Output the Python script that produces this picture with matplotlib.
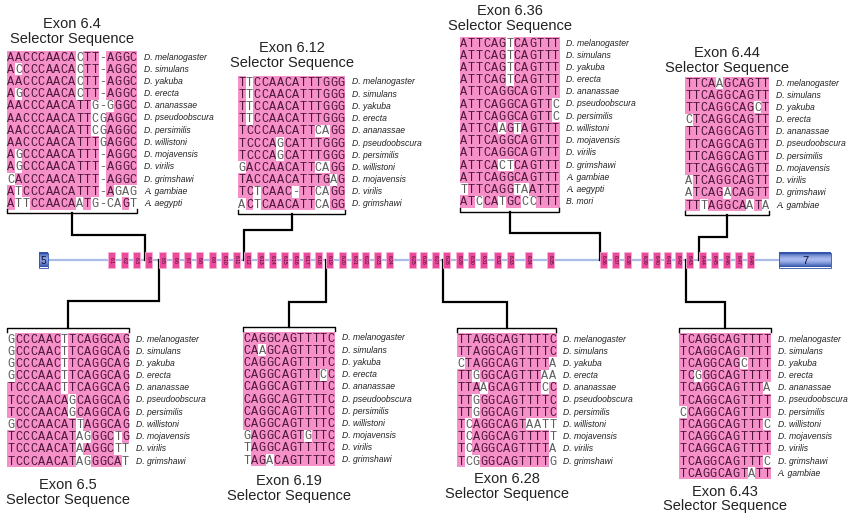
"""
Selector exons of the Dscam exon 6 cluster with their aligned selector sequences.
Upper case = shaded (conserved) base, lower case = unshaded base.
"""
import matplotlib

matplotlib.use("Agg")
import matplotlib.pyplot as plt
from matplotlib.patches import Rectangle
import numpy as np

# --------------------------------------------------------------------------- #
# DATA                                                                        #
# --------------------------------------------------------------------------- #
DROS = ["D. melanogaster", "D. simulans", "D. yakuba", "D. erecta",
        "D. ananassae", "D. pseudoobscura", "D. persimilis", "D. willistoni",
        "D. mojavensis", "D. virilis", "D. grimshawi"]

EX6_4_SPECIES = DROS + ["A. gambiae", "A. aegypti"]
EX6_4_SEQS = [
    "AACCCAACAcTT-AGGC",
    "AcCCCAACAcTT-AGGC",
    "AACCCAACAcTT-AGGC",
    "AgCCCAACAcTT-AGGC",
    "AACCCAACATTg-gGGC",
    "AACCCAACATTcgAGGC",
    "AACCCAACATTcgAGGC",
    "AACCCAACATTTgAGGC",
    "AgCCCAACATTT-AGGC",
    "AgCCCAACATTT-AGGC",
    "cACCCAACATTT-AGGC",
    "AtCCCAACATTT-Agag",
    "AttCCAACAaTg-caGt",
]

EX6_12_SPECIES = DROS
EX6_12_SEQS = [
    "TtCCAACATTTGGG",
    "TtCCAACATTTGGG",
    "TtCCAACATTTGGG",
    "TtCCAACATTTGGG",
    "TCCCAACATTcaGG",
    "TCCCAgCATTTGGG",
    "TCCCAgCATTTGGG",
    "gACCAACATTcaGG",
    "TACCAACATTTGaG",
    "TCtCAAC-TTcaGG",
    "aCtCAACATTcaGG",
]

EX6_36_SPECIES = DROS + ["A. gambiae", "A. aegypti", "B. mori"]
EX6_36_SEQS = [
    "ATTCAGtCAGTTT",
    "ATTCAGtCAGTTT",
    "ATTCAGtCAGTTT",
    "ATTCAGtCAGTTT",
    "ATTCAGGCAGTTT",
    "ATTCAGGCAGTTc",
    "ATTCAGGCAGTTc",
    "ATTCAaGtAGTTT",
    "ATTCAGGCAGTTT",
    "ATTCAGGCAGTTT",
    "ATTCActCAGTTT",
    "ATTCAGGCAGTTT",
    "tTTCAGGtaATTT",
    "ATcCAtGCccTTT",
]

EX6_44_SPECIES = ["D. melanogaster", "D. simulans", "D. yakuba", "D. erecta",
                  "D. ananassae", "D. pseudoobscura", "D. persimilis",
                  "D. mojavensis", "D. virilis", "D. grimshawi", "A. gambiae"]
EX6_44_SEQS = [
    "TTCAaGCAGTT",
    "TTCAGGCAGTT",
    "TTCAGGCAGcT",
    "cTCAGGCAGTT",
    "TTCAGGCAGTT",
    "TTCAGGCAGTT",
    "TTCAGGCAGTT",
    "TTCAGGCAGTT",
    "aTCAGGCAGTT",
    "aTCAGaCAGTT",
    "TTtAGGCAaTa",
]

EX6_5_SPECIES = DROS
EX6_5_SEQS = [
    "gCCCAACtTCAGGCAG",
    "gCCCAACtTCAGGCAG",
    "gCCCAACtTCAGGCAG",
    "gCCCAACtTCAGGCAG",
    "TCCCAACtTCAGGCAG",
    "TCCCAACAgCAGGCAG",
    "TCCCAACAgCAGGCAG",
    "gCCCAACATtAGGCAG",
    "TCCCAACATagGGCtG",
    "TCCCAACATaAGGCtt",
    "TCCCAACATagGGCAt",
]

EX6_19_SPECIES = DROS
EX6_19_SEQS = [
    "CAGGCAGTTTTC",
    "CAaGCAGTTTTC",
    "CAGGCAGTTTTC",
    "CAGGCAGTTTcC",
    "CAGGCAGTTTTC",
    "CAGGCAGTTTTC",
    "CAGGCAGTTTTC",
    "CAGGCAGTTTTC",
    "gAGGCAGTgTTC",
    "tAGGCAGTTTTC",
    "tAGaCAGTTTTC",
]

EX6_28_SPECIES = DROS
EX6_28_SEQS = [
    "TTAGGCAGTTTTC",
    "TTAGGCAGTTTTC",
    "cTAGGCAGTTTTa",
    "TTgGGCAGTTTaa",
    "TTAaGCAGTTTcC",
    "TTgGGCAGTTTTC",
    "TTgGGCAGTTTTC",
    "TcAGGCAGTaatt",
    "TcAGGCAGTTTTt",
    "TcAGGCAGTTTTa",
    "TcgGGCAGTTTTg",
]

EX6_43_SPECIES = DROS + ["A. gambiae"]
EX6_43_SEQS = [
    "TCAGGCAGTTTT",
    "TCAGGCAGTTTT",
    "TCAGGCAGcTTT",
    "TCgGGCAGTTTT",
    "TCAGGCAGTTTa",
    "TCAGGCAGTTTT",
    "cCAGGCAGTTTT",
    "TCAGGCAGTTTc",
    "TCAGGCAGTTTT",
    "TCAGGCAGTTTT",
    "TCAGGCAGTTTc",
    "TCAGGCAGTaTT",
]

# exon 6 variants along the gene (drawing units), plus flanking constitutive exons
EXON6_LABELS = [f"6.{i}" for i in range(1, 49)]
EXON6_POS = [111, 124, 136, 148, 162, 175, 187, 199, 212, 224, 236, 247,
             260, 272, 284, 295, 306, 318, 329, 342, 354, 365, 377, 389,
             412, 423, 435, 446, 459, 471, 483, 497, 510, 528, 550,
             603, 615, 627, 644, 656, 667, 678, 689, 702, 714, 726, 738, 750]
EXON5_SPAN = (39, 48)
EXON7_SPAN = (779, 831)

# --------------------------------------------------------------------------- #
# LAYOUT / STYLE                                                              #
# --------------------------------------------------------------------------- #
PANELS = [
    dict(name="6.4", seqs=EX6_4_SEQS, species=EX6_4_SPECIES, x0=7, y0=57,
         side="top", elbow=235, titles=(24, 39)),
    dict(name="6.12", seqs=EX6_12_SEQS, species=EX6_12_SPECIES, x0=238, y0=82,
         side="top", elbow=230, titles=(48, 63)),
    dict(name="6.36", seqs=EX6_36_SEQS, species=EX6_36_SPECIES, x0=460, y0=43,
         side="top", elbow=233, titles=(11, 26)),
    dict(name="6.44", seqs=EX6_44_SEQS, species=EX6_44_SPECIES, x0=685, y0=83,
         side="top", elbow=237, titles=(53, 68)),
    dict(name="6.5", seqs=EX6_5_SEQS, species=EX6_5_SPECIES, x0=7, y0=339,
         side="bottom", elbow=301, titles=(485, 500)),
    dict(name="6.19", seqs=EX6_19_SEQS, species=EX6_19_SPECIES, x0=243, y0=338,
         side="bottom", elbow=302, titles=(481, 496)),
    dict(name="6.28", seqs=EX6_28_SEQS, species=EX6_28_SPECIES, x0=457, y0=339,
         side="bottom", elbow=302, titles=(479, 494)),
    dict(name="6.43", seqs=EX6_43_SEQS, species=EX6_43_SPECIES, x0=679, y0=339,
         side="bottom", elbow=302, titles=(492, 506)),
]

CW, RH = 7.65, 12.2          # alignment cell width / row height
TRACK_Y = 260
PINK = "#f590c8"
ON_PINK = "#4d1638"
OFF_PINK = "#5c5c5c"
SANS = ["Liberation Sans", "DejaVu Sans"]
MONO = ["Liberation Mono", "DejaVu Sans Mono"]


def grad_box(ax, x0, x1, y0, y1, dark, light, z=3):
    t = np.linspace(0, 1, 40)
    w = 1 - np.abs(2 * t - 1) ** 1.5
    d = np.array(matplotlib.colors.to_rgb(dark))
    l = np.array(matplotlib.colors.to_rgb(light))
    img = d[None, :] * (1 - w[:, None]) + l[None, :] * w[:, None]
    ax.imshow(img[:, None, :], extent=(x0, x1, y1, y0), aspect="auto",
              interpolation="bilinear", zorder=z)
    ax.add_patch(Rectangle((x0, y0), x1 - x0, y1 - y0, fill=False,
                           edgecolor=dark, lw=0.6, zorder=z + 0.1))


def draw_panel(ax, p):
    seqs, x0, y0 = p["seqs"], p["x0"], p["y0"]
    ncol = len(seqs[0])
    nrow = len(seqs)
    for i, s in enumerate(seqs):
        yc = y0 + i * RH
        for j, ch in enumerate(s):
            shaded = ch.isupper()
            if shaded:
                ax.add_patch(Rectangle((x0 + j * CW - 0.05, yc - RH / 2 - 0.05),
                                       CW + 0.1, RH + 0.1, facecolor=PINK,
                                       edgecolor="none", zorder=1))
            ax.text(x0 + (j + 0.5) * CW, yc + 0.6, ch.upper(), ha="center", va="center",
                    family=MONO, fontsize=8.6, color=ON_PINK if shaded else OFF_PINK,
                    zorder=2)
        ax.text(x0 + ncol * CW + 7, yc, p["species"][i], ha="left", va="center",
                family=SANS, style="italic", fontsize=6.2, color="#222222")

    x1 = x0 + ncol * CW
    xc = (x0 + x1) / 2
    exon_x = EXON6_POS[EXON6_LABELS.index(p["name"])] - 3.5
    if p["side"] == "top":
        yb = y0 + (nrow - 1) * RH + 10
        tick = -4
    else:
        yb = y0 - 11
        tick = 4

    ax.plot([x0, x0, x1, x1], [yb + tick, yb, yb, yb + tick], color="black",
            lw=1.0, solid_joinstyle="round", zorder=2)
    ax.plot([xc, xc, exon_x, exon_x], [yb, p["elbow"], p["elbow"], TRACK_Y],
            color="black", lw=1.6, solid_joinstyle="miter", zorder=2)
    t1, t2 = p["titles"]
    ax.text(xc, t1, f"Exon {p['name']}", ha="center", va="center",
            family=SANS, fontsize=10.5, color="#222222")
    ax.text(xc, t2, "Selector Sequence", ha="center", va="center",
            family=SANS, fontsize=10.5, color="#222222")


def draw_track(ax):
    ax.plot([EXON5_SPAN[1], EXON7_SPAN[0]], [TRACK_Y, TRACK_Y], color="#a9bde6",
            lw=1.6, zorder=1.5)
    grad_box(ax, EXON5_SPAN[0], EXON5_SPAN[1], TRACK_Y - 7.5, TRACK_Y + 7.5,
             "#2e4fa8", "#8fa6e6")
    ax.text(sum(EXON5_SPAN) / 2, TRACK_Y + 0.5, "5", ha="center", va="center",
            family=SANS, fontsize=7.5, color="#111133", zorder=5)
    grad_box(ax, EXON7_SPAN[0], EXON7_SPAN[1], TRACK_Y - 7.5, TRACK_Y + 7.5,
             "#2e4fa8", "#a8baf0")
    ax.text(sum(EXON7_SPAN) / 2, TRACK_Y + 0.5, "7", ha="center", va="center",
            family=SANS, fontsize=8, color="#111133", zorder=5)
    for lab, x in zip(EXON6_LABELS, EXON6_POS):
        ax.add_patch(Rectangle((x - 3.5, TRACK_Y - 8), 7, 16, facecolor="#ec4a9c",
                               edgecolor="#f8b0d4", lw=0.6, zorder=3))
        ax.text(x, TRACK_Y, lab, ha="center", va="center", rotation=270,
                family=SANS, fontsize=3.6, color="#3a0a24", zorder=4)


def main():
    fig = plt.figure(figsize=(8.59, 5.18), dpi=100)
    ax = fig.add_axes([0, 0, 1, 1])
    ax.axis("off")
    draw_track(ax)
    for p in PANELS:
        draw_panel(ax, p)
    ax.set_xlim(0, 859)
    ax.set_ylim(518, 0)
    fig.savefig("out.png", dpi=100, facecolor="white")
    plt.close(fig)


if __name__ == "__main__":
    main()
